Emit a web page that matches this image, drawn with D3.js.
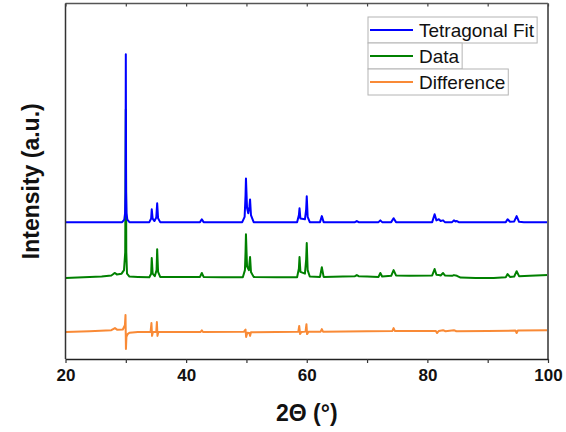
<!DOCTYPE html>
<html>
<head>
<meta charset="utf-8">
<script src="https://cdn.jsdelivr.net/npm/d3@7"></script>
<style>
  body { margin: 0; background: #fff; }
  text { font-family: "Liberation Sans", Arial, sans-serif; }
</style>
</head>
<body>
<div id="chart"></div>
<script>
// values: [2theta, stacked intensity (a.u.)]
var fitPoints = [
  [20, 38.5], [29.4, 38.5], [29.75, 39.2], [29.88, 41], [29.95, 47], [30.0, 85.7], [30.05, 47], [30.12, 41], [30.25, 39.2], [30.6, 38.5],
  [33.9, 38.5], [34.2, 39.5], [34.3, 42.1], [34.45, 39.5], [34.75, 38.8], [35.05, 39.8], [35.2, 43.8], [35.35, 39.6], [35.7, 38.5],
  [42.3, 38.5], [42.6, 39.3], [42.9, 38.5],
  [49.3, 38.5], [49.7, 40.0], [49.85, 46], [49.92, 50.8], [50.1, 42.5], [50.3, 41], [50.5, 43], [50.6, 44.9], [50.75, 40.5], [51.2, 38.5],
  [58.4, 38.5], [58.7, 40.5], [58.8, 42.4], [58.95, 39.5], [59.7, 39.3], [59.9, 42], [60.0, 45.8], [60.15, 40], [60.5, 38.5],
  [62.2, 38.5], [62.5, 40.2], [62.8, 38.5],
  [68.0, 38.5], [68.3, 38.8], [68.6, 38.5],
  [71.9, 38.5], [72.2, 39.0], [72.5, 38.5],
  [74.0, 38.5], [74.4, 39.6], [74.8, 38.5],
  [80.8, 38.5], [81.2, 40.7], [81.5, 39.0], [81.9, 39.3], [82.2, 38.8], [82.6, 39.0], [82.9, 38.5],
  [84.1, 38.5], [84.4, 39.0], [84.65, 38.7], [84.9, 38.8], [85.2, 38.5],
  [93.0, 38.5], [93.3, 39.3], [93.7, 38.6], [94.4, 38.7], [94.8, 40.2], [95.2, 38.6], [96, 38.5],
  [100, 38.5]
];

var dataPoints = [
  [20, 22.8], [23, 23.0], [26, 23.2], [27.6, 23.5], [28.0, 24.0], [28.2, 24.2], [28.5, 23.8], [29.3, 24.0], [29.7, 25.0],
  [29.9, 30], [30.0, 70.2], [30.08, 30], [30.2, 24.0], [30.6, 23.2], [32, 23.1],
  [33.9, 23.0], [34.2, 24], [34.3, 28.4], [34.45, 24], [34.8, 23.3], [35.1, 25], [35.2, 30.9], [35.35, 24.5], [35.7, 23.1],
  [39, 23.1], [42.3, 23.1], [42.6, 24.2], [42.9, 23.1],
  [46, 23.0], [49.4, 23.0], [49.75, 25], [49.85, 30], [49.92, 35.1], [50.1, 26], [50.4, 25], [50.6, 28.7], [50.75, 24.5], [51.2, 23.1],
  [55, 23.0], [58.4, 23.0], [58.7, 25.5], [58.8, 28.7], [58.95, 24.5], [59.7, 24.0], [59.9, 28], [60.0, 32.6], [60.15, 25], [60.5, 23.2],
  [62.2, 23.1], [62.5, 25.8], [62.8, 23.1],
  [66, 23.2], [68.0, 23.3], [68.3, 23.6], [68.6, 23.3], [70, 23.2],
  [71.9, 23.1], [72.2, 24.2], [72.5, 23.2],
  [74.0, 23.4], [74.4, 25.0], [74.8, 23.5], [77, 23.4],
  [80.8, 23.5], [81.2, 25.3], [81.5, 23.7], [81.9, 23.6], [82.2, 23.5], [82.6, 24.2], [82.9, 23.5],
  [84.1, 23.4], [84.4, 23.6], [84.9, 23.4], [85.5, 22.9], [88, 22.8], [91, 22.8],
  [93.0, 23.0], [93.3, 23.9], [93.7, 23.1], [94.4, 23.2], [94.8, 24.7], [95.2, 23.3], [97, 23.4], [100, 23.6]
];

var diffPoints = [
  [20, 7.6], [24, 7.8], [27.6, 8.1], [28.2, 8.7], [28.6, 8.2], [29.5, 8.3], [29.85, 9.5], [29.95, 12.4], [30.02, 2.8],
  [30.1, 6.2], [30.3, 7.0], [30.6, 7.4], [32, 7.6],
  [34.1, 7.6], [34.25, 10.1], [34.35, 6.5], [34.5, 7.6], [35.05, 7.6], [35.15, 10.4], [35.25, 6.5], [35.4, 7.6],
  [42.4, 7.6], [42.6, 8.1], [42.8, 7.6],
  [49.6, 7.7], [49.85, 8.3], [49.95, 6.2], [50.15, 7.4], [50.5, 7.3], [50.6, 6.5], [50.75, 7.5],
  [58.6, 7.7], [58.75, 9.3], [58.9, 7.0], [59.1, 7.6], [59.8, 7.7], [59.95, 9.8], [60.05, 7.0], [60.3, 7.7],
  [62.3, 7.7], [62.5, 8.4], [62.7, 7.7],
  [70, 7.8], [74.2, 7.9], [74.4, 8.7], [74.6, 7.9], [80, 7.9], [81.4, 7.9], [81.6, 7.3], [81.9, 7.9],
  [82.6, 8.1], [83, 7.8], [84.4, 8.1], [84.8, 7.8], [90, 7.9], [94.6, 8.0], [94.8, 7.3], [95.0, 8.0], [100, 8.1]
];

var seriesNames = ["Tetragonal Fit", "Data", "Difference"];
var seriesColors = ["#0000ff", "#008000", "#f98a36"];
var xTicks = [20, 30, 40, 50, 60, 70, 80, 90, 100];

var svgWidth = 566;
var svgHeight = 432;
var margin = { top: 3.5, right: 18, bottom: 73, left: 65.5 };
var chartWidth = svgWidth - margin.left - margin.right;
var chartHeight = svgHeight - margin.top - margin.bottom;

var svg = d3.select("#chart")
  .append("svg")
  .attr("width", svgWidth)
  .attr("height", svgHeight);

var chartGroup = svg.append("g")
  .attr("transform", `translate(${margin.left}, ${margin.top})`);

var xScale = d3.scaleLinear().domain([20, 100]).range([0, chartWidth]);
var yScale = d3.scaleLinear().domain([0, 100]).range([chartHeight, 0]);

var drawLine = d3.line()
  .x(d => xScale(d[0]))
  .y(d => yScale(d[1]));

// draw order: difference, data, then the fit on top
var allSeries = [fitPoints, dataPoints, diffPoints];
[2, 1, 0].forEach(function(i) {
  chartGroup.append("path")
    .datum(allSeries[i])
    .attr("fill", "none")
    .attr("stroke", seriesColors[i])
    .attr("stroke-width", 2)
    .attr("stroke-linejoin", "round")
    .attr("d", drawLine);
});

// frame
chartGroup.append("line")
  .attr("x1", 0).attr("x2", chartWidth).attr("y1", 0).attr("y2", 0)
  .attr("stroke", "#555").attr("stroke-width", 1.5);
chartGroup.append("line")
  .attr("x1", chartWidth).attr("x2", chartWidth).attr("y1", 0).attr("y2", chartHeight)
  .attr("stroke", "#666").attr("stroke-width", 2);
chartGroup.append("line")
  .attr("x1", 0).attr("x2", 0).attr("y1", 0).attr("y2", chartHeight)
  .attr("stroke", "#333").attr("stroke-width", 1.5);

// bottom axis
var bottomAxis = d3.axisBottom(xScale)
  .tickValues(xTicks)
  .tickSizeInner(4)
  .tickSizeOuter(0)
  .tickPadding(6)
  .tickFormat(d => d % 20 === 0 ? d : "");

var xAxisG = chartGroup.append("g")
  .attr("transform", "translate(0, " + chartHeight + ")")
  .call(bottomAxis);
xAxisG.select(".domain").attr("stroke", "#222").attr("stroke-width", 1.5);
xAxisG.selectAll(".tick line").attr("stroke", "#333").attr("stroke-width", 1.2);
xAxisG.selectAll("text")
  .attr("fill", "#111")
  .style("font-size", "17px")
  .style("font-weight", "bold")
  .style("font-family", "'Liberation Sans', Arial, sans-serif");

// top axis, ticks only, pointing in
var topAxis = d3.axisTop(xScale)
  .tickValues(xTicks)
  .tickSizeInner(-3)
  .tickSizeOuter(0)
  .tickFormat("");
var topG = chartGroup.append("g").call(topAxis);
topG.select(".domain").remove();
topG.selectAll(".tick line").attr("stroke", "#444").attr("stroke-width", 1.2);

// axis titles
svg.append("text")
  .attr("x", margin.left + chartWidth / 2)
  .attr("y", 421)
  .attr("text-anchor", "middle")
  .style("font-size", "23px")
  .style("font-weight", "bold")
  .attr("fill", "#111")
  .text("2Θ (°)");

svg.append("text")
  .attr("transform", "translate(39, " + (margin.top + chartHeight / 2) + ") rotate(-90)")
  .attr("text-anchor", "middle")
  .style("font-size", "23px")
  .style("font-weight", "bold")
  .attr("fill", "#111")
  .text("Intensity (a.u.)");

// legend: each row gets its own box
var legendX = 368;
var legendY = 17;
var rowH = 26;
var legend = svg.append("g");
seriesNames.forEach(function(name, i) {
  var row = legend.append("g").attr("transform", `translate(${legendX}, ${legendY + i * rowH})`);
  var box = row.append("rect")
    .attr("x", 0).attr("y", 0)
    .attr("height", rowH)
    .attr("fill", "#fff")
    .attr("stroke", "#b4b4b4")
    .attr("stroke-width", 1);
  row.append("line")
    .attr("x1", 2).attr("x2", 45)
    .attr("y1", rowH / 2).attr("y2", rowH / 2)
    .attr("stroke", seriesColors[i])
    .attr("stroke-width", 2);
  var label = row.append("text")
    .attr("x", 51)
    .attr("y", rowH / 2 + 6.5)
    .style("font-size", "19px")
    .attr("fill", "#111")
    .text(name);
  box.attr("width", 51 + label.node().getComputedTextLength() + 3);
});
</script>
</body>
</html>
